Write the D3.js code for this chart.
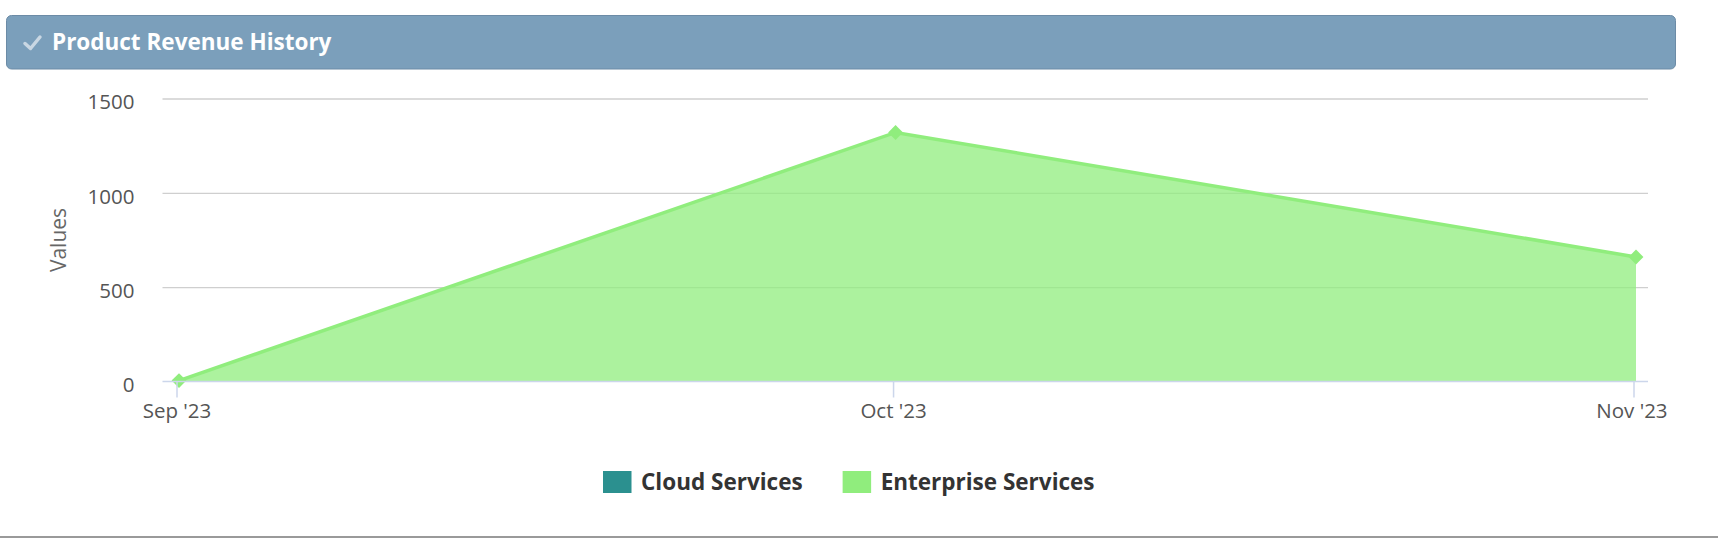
<!DOCTYPE html>
<html>
<head>
<meta charset="utf-8">
<script src="https://cdn.jsdelivr.net/npm/d3@7"></script>
<style>
  html, body { margin: 0; padding: 0; background: #fff; }
  svg { display: block; font-family: "Open Sans", sans-serif; }
</style>
</head>
<body>
<svg id="chart"></svg>
<script>
// data
const months = ["2023-09-01", "2023-10-01", "2023-11-01"];
const seriesNames = ["Cloud Services", "Enterprise Services"];
const seriesColors = ["#2b908f", "#90ed7d"];
const cloudValues = [];              // no points drawn for this series
const enterpriseValues = [5, 1320, 660];
const yTicks = [0, 500, 1000, 1500];

const width = 1718, height = 538;
const plot = { left: 162.5, right: 1648, top: 98.5, bottom: 381.5 };

const svg = d3.select("#chart").attr("width", width).attr("height", height);

// header bar
svg.append("rect")
    .attr("x", 6.5).attr("y", 15.5)
    .attr("width", 1669).attr("height", 53.5)
    .attr("rx", 5)
    .attr("fill", "#7b9fbb")
    .attr("stroke", "#6c8ba6");

// little check mark
svg.append("path")
    .attr("d", "M25,43.5 L30.5,48.5 L40,37")
    .attr("fill", "none")
    .attr("stroke", "#c9d7e3")
    .attr("stroke-width", 3.5)
    .attr("stroke-linecap", "round")
    .attr("stroke-linejoin", "round");

svg.append("text")
    .attr("x", 52).attr("y", 50)
    .attr("fill", "#fff")
    .attr("font-size", 22.5)
    .attr("font-weight", 700)
    .text("Product Revenue History");

// scales
const dates = months.map(d => new Date(d + "T00:00:00Z"));
const x = d3.scaleUtc()
    .domain([dates[0], dates[dates.length - 1]])
    .range([plot.left + 14, plot.right - 14.5]);
const y = d3.scaleLinear()
    .domain([0, 1500])
    .range([plot.bottom, plot.top]);

// grid + y labels
const yAxis = svg.append("g")
    .attr("transform", `translate(${plot.left},0)`)
    .call(d3.axisLeft(y).tickValues(yTicks)
        .tickFormat(d3.format("d"))
        .tickSize(-(plot.right - plot.left))
        .tickPadding(28));
yAxis.select(".domain").remove();
yAxis.selectAll(".tick line")
    .attr("stroke", "#cfcfcf")
    .attr("stroke-width", 1.3)
    .filter(d => d === 0).remove();
yAxis.selectAll(".tick text")
    .attr("fill", "#555")
    .attr("font-size", 20.5)
    .attr("font-family", "Open Sans, sans-serif")
    .attr("dy", "0.5em");

svg.append("text")
    .attr("transform", `translate(66,240) rotate(-90)`)
    .attr("text-anchor", "middle")
    .attr("fill", "#666")
    .attr("font-size", 21)
    .text("Values");

// series
const series = [cloudValues, enterpriseValues];
const area = d3.area()
    .x((d, i) => x(dates[i]))
    .y0(y(0))
    .y1(d => y(d));
const line = d3.line()
    .x((d, i) => x(dates[i]))
    .y(d => y(d));

series.forEach((vals, s) => {
    if (!vals.length) return;
    const g = svg.append("g").attr("transform", "translate(2.5,0)");
    g.append("path")
        .datum(vals)
        .attr("d", area)
        .attr("fill", seriesColors[s])
        .attr("fill-opacity", 0.75);
    g.append("path")
        .datum(vals)
        .attr("d", line)
        .attr("fill", "none")
        .attr("stroke", seriesColors[s])
        .attr("stroke-width", 3.5);
    g.selectAll("path.pt")
        .data(vals)
        .enter().append("path")
        .attr("class", "pt")
        .attr("d", d3.symbol().type(d3.symbolSquare).size(110))
        .attr("transform", (d, i) => `translate(${x(dates[i])},${y(d)}) rotate(45)`)
        .attr("fill", seriesColors[s]);
});

// x axis: baseline, ticks, labels
svg.append("line")
    .attr("x1", plot.left).attr("x2", plot.right)
    .attr("y1", y(0)).attr("y2", y(0))
    .attr("stroke", "#ccd6eb")
    .attr("stroke-width", 1.5);

const xAxis = svg.append("g")
    .attr("transform", `translate(0,${y(0)})`)
    .call(d3.axisBottom(x).tickValues(dates)
        .tickFormat(d3.utcFormat("%b '%y"))
        .tickSize(16).tickPadding(6));
xAxis.select(".domain").remove();
xAxis.selectAll(".tick line").attr("stroke", "#ccd6eb").attr("stroke-width", 1.5);
xAxis.selectAll(".tick text")
    .attr("fill", "#555")
    .attr("font-size", 20.5)
    .attr("font-family", "Open Sans, sans-serif")
    .attr("dx", (d, i) => i === dates.length - 1 ? "-0.1em" : 0);

// legend
const legend = svg.append("g").attr("transform", "translate(603,471)");
let lx = 0;
seriesNames.forEach((name, i) => {
    const item = legend.append("g").attr("transform", `translate(${lx},0)`);
    item.append("rect")
        .attr("width", 28.5).attr("height", 22)
        .attr("fill", seriesColors[i]);
    const t = item.append("text")
        .attr("x", 38).attr("y", 19)
        .attr("fill", "#333")
        .attr("font-size", 22.5)
        .attr("font-weight", 700)
        .text(name);
    lx += 38 + t.node().getComputedTextLength() + 40;
});

// bottom rule
svg.append("line")
    .attr("x1", 0).attr("x2", width)
    .attr("y1", 537).attr("y2", 537)
    .attr("stroke", "#9a9a9a")
    .attr("stroke-width", 2);
</script>
</body>
</html>
